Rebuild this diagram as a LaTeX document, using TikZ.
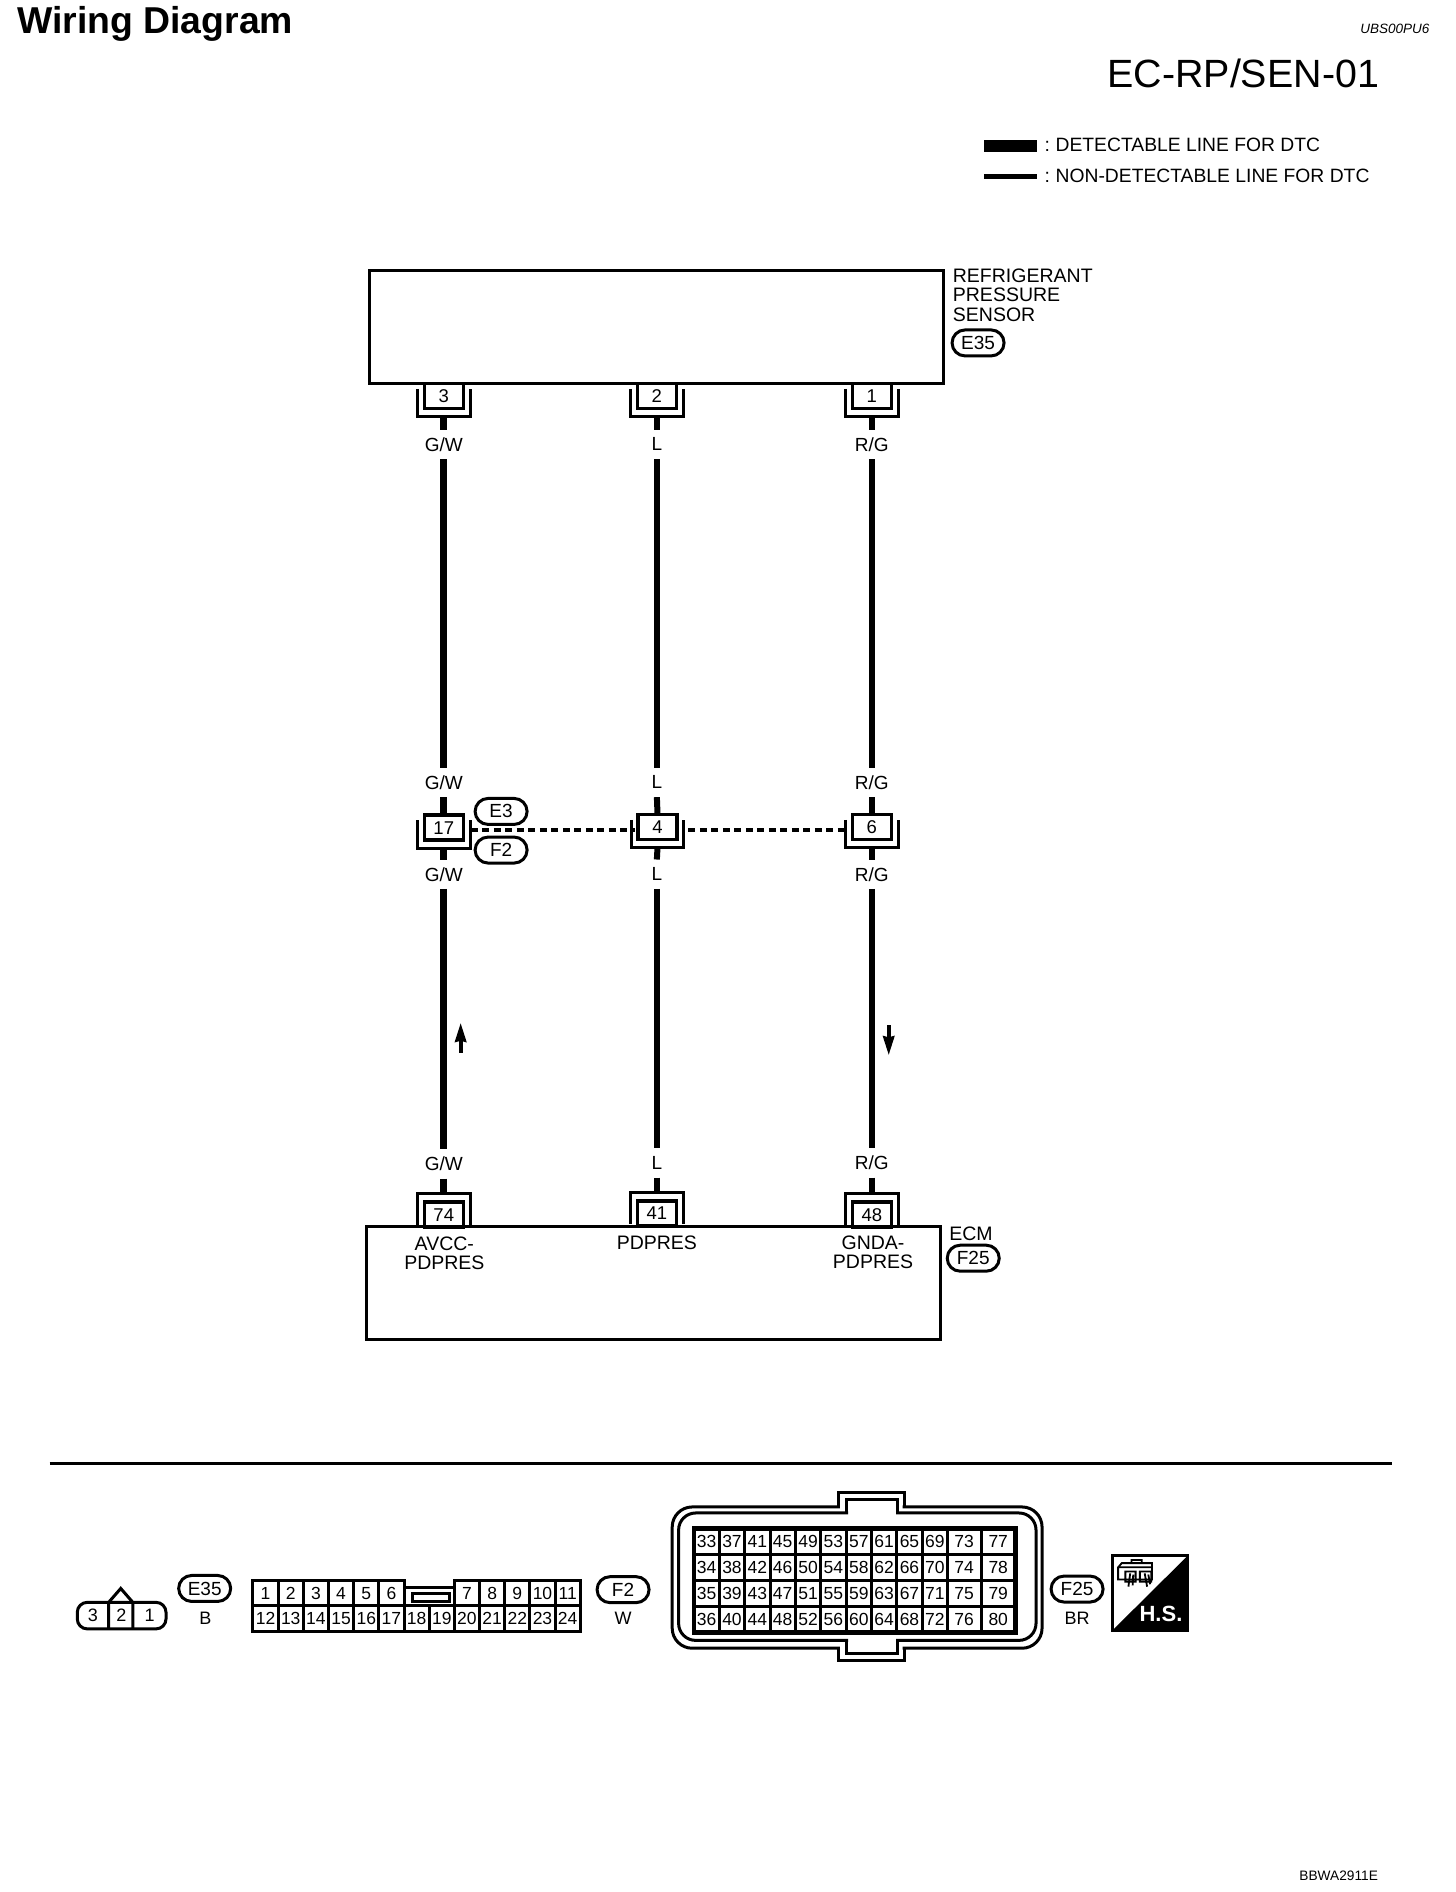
\documentclass[tikz,border=0pt]{standalone}
\usepackage{fontspec}
\setmainfont{Liberation Sans}
\usetikzlibrary{arrows.meta}
\newcommand\fs[1]{\fontsize{#1}{#1}\selectfont}
\newcommand\brDown[1]{\draw[bracket] ([xshift=-5pt,yshift=-7pt]#1.north west) |- ([yshift=-6.5pt]#1.south) -| ([xshift=5pt,yshift=-7pt]#1.north east);}
\newcommand\brUp[1]{\draw[bracket] ([xshift=-5pt,yshift=4pt]#1.south west) |- ([yshift=6.5pt]#1.north) -| ([xshift=5pt,yshift=4pt]#1.south east);}
\tikzset{
  box/.style={draw,line width=3pt,inner sep=0pt},
  pin/.style={draw,fill=white,line width=3.5pt,minimum width=39pt,minimum height=25pt,inner sep=0pt,font=\fs{18.5}},
  bracket/.style={line width=3pt},
  wirethick/.style={line width=7pt},
  wirethin/.style={line width=6pt},
  lab/.style={minimum height=29pt,inner sep=0pt,font=\fs{19}},
  txt/.style={inner sep=0pt,font=\fs{19.5}},
  tag/.style={draw,fill=white,line width=3pt,rounded corners=13pt,minimum width=52pt,minimum height=26pt,inner sep=0pt,font=\fs{19}},
  cell/.style={draw,line width=3pt,inner sep=0pt,minimum height=25.96pt,font=\fs{17.5}},
  scell/.style={draw,line width=3pt,inner sep=0pt,minimum width=25.18pt,minimum height=25.36pt,font=\fs{17.5}},
  shell/.style={line width=3pt,line join=miter,line cap=rect},
  dashline/.style={line width=3.5pt,dash pattern=on 7pt off 4.5pt},
  flow/.style={line width=4pt,-{Stealth[length=19pt,width=11pt,inset=1pt]}},
}
\begin{document}
\begin{tikzpicture}[x=1.2075pt,y=-1.2075pt]
\useasboundingbox (0,0) rectangle (1205.8,1566.9);
% headings
\node[anchor=base west,inner sep=0pt,font=\bfseries\fs{37.4}] (title) at (14,28) {Wiring Diagram};
\node[anchor=base east,inner sep=0pt,font=\itshape\fs{13.5}] (code) at (1184,28) {UBS00PU6};
\node[anchor=base west,inner sep=0pt,font=\fs{39.4}] (sec) at (917,72.5) {EC-RP/SEN-01};
\node[anchor=base west,inner sep=0pt,font=\fs{13.7}] (fig) at (1076,1557.5) {BBWA2911E};
% legend
\coordinate (la) at (815,120.5); \coordinate (lb) at (859,120.5);
\coordinate (lc) at (815,146.5); \coordinate (ld) at (859,146.5);
\draw[line width=12pt] (la) -- (lb);
\draw[line width=5pt] (lc) -- (ld);
\node[anchor=base west,inner sep=0pt,font=\fs{19.3}] (lt1) at (865,125.5) {:\hspace{-0.08em} DETECTABLE LINE FOR DTC};
\node[anchor=base west,inner sep=0pt,font=\fs{19.3}] (lt2) at (865,151) {:\hspace{-0.08em} NON-DETECTABLE LINE FOR DTC};
% sensor
\node[box,minimum width=573.6pt,minimum height=113.5pt] (sensor) at (543.5,271) {};
\node[txt,anchor=north west,align=left] (sname) at (789,222.5) {REFRIGERANT\\[-0.2pt]PRESSURE\\[-0.2pt]SENSOR};
\node[tag] (tE35) at (810,284) {E35};
\node[pin] (p3) at (367.5,328) {3};
\node[pin] (p2) at (544,328) {2};
\node[pin] (p1) at (722,328) {1};
% ecm
\node[box,minimum width=574.2pt,minimum height=112.3pt] (ecm) at (541.2,1062.5) {};
\node[pin] (p74) at (367.5,1006) {74};
\node[pin] (p41) at (544,1005) {41};
\node[pin] (p48) at (722,1006) {48};
\node[txt,align=center] (s74) at (368,1038) {AVCC-\\PDPRES};
\node[txt] (s41) at (544,1029) {PDPRES};
\node[txt,align=center] (s48) at (723,1037) {GNDA-\\PDPRES};
\node[txt,anchor=base west] (ecmname) at (786,1027) {ECM};
\node[tag] (tF25) at (806,1042) {F25};
% middle connector
\node[pin] (p17) at (367.5,685.5) {17};
\node[pin] (p4) at (544.5,685) {4};
\node[pin] (p6) at (722,685) {6};
\node[tag] (tE3) at (415,672) {E3};
\node[tag] (tF2) at (415,704) {F2};
\coordinate (dA) at (390,687.5); \coordinate (dB) at (526,687.5);
\coordinate (dC) at (570,687.5); \coordinate (dD) at (699,687.5);
\draw[dashline] (dA) -- (dB);
\draw[dashline] (dC) -- (dD);
% brackets
\foreach \p in {p3,p2,p1,p17,p4,p6}{\brDown{\p}}
\foreach \p in {p74,p41,p48}{\brUp{\p}}
\foreach \p in {p3,p2,p1,p17,p4,p6}{\coordinate (b\p) at ([yshift=-6.5pt]\p.south);}
\foreach \p in {p74,p41,p48}{\coordinate (b\p) at ([yshift=6.5pt]\p.north);}
% wire labels
\node[lab] (a1) at (367.5,368) {G/W};
\node[lab] (a2) at (367.5,648) {G/W};
\node[lab] (a3) at (367.5,724) {G/W};
\node[lab] (a4) at (367.5,964) {G/W};
\node[lab] (c1) at (544,368) {L};
\node[lab] (c2) at (544,648) {L};
\node[lab] (c3) at (544,724) {L};
\node[lab] (c4) at (544,963) {L};
\node[lab] (d1) at (722,368) {R/G};
\node[lab] (d2) at (722,648) {R/G};
\node[lab] (d3) at (722,724) {R/G};
\node[lab] (d4) at (722,963) {R/G};
% wires
\draw[wirethick] (bp3) -- (a1.north);
\draw[wirethick] (a1.south) -- (a2.north);
\draw[wirethick] (a2.south) -- (p17.north);
\draw[wirethick] (bp17) -- (a3.north);
\draw[wirethick] (a3.south) -- (a4.north);
\draw[wirethick] (a4.south) -- (bp74);
\draw[wirethin] (bp2) -- (c1.north);
\draw[wirethin] (c1.south) -- (c2.north);
\draw[wirethin] (c2.south) -- (p4.north);
\draw[wirethin] (bp4) -- (c3.north);
\draw[wirethin] (c3.south) -- (c4.north);
\draw[wirethin] (c4.south) -- (bp41);
\draw[wirethin] (bp1) -- (d1.north);
\draw[wirethin] (d1.south) -- (d2.north);
\draw[wirethin] (d2.south) -- (p6.north);
\draw[wirethin] (bp6) -- (d3.north);
\draw[wirethin] (d3.south) -- (d4.north);
\draw[wirethin] (d4.south) -- (bp48);
% current arrows
\coordinate (ua) at (381.5,872); \coordinate (ub) at (381.5,847);
\coordinate (da) at (736,849); \coordinate (db) at (736,874);
\draw[flow] (ua) -- (ub);
\draw[flow] (da) -- (db);
% separator
\coordinate (sa) at (41,1212); \coordinate (sb) at (1153,1212);
\draw[line width=3pt] (sa) -- (sb);
% E35 face
\draw[line width=3pt,rounded corners=10pt] (64,1327) rectangle (137.5,1349);
\draw[line width=3pt,line join=miter] (90,1349) -- (90,1327) -- (100,1315.5) -- (110,1327) -- (110,1349);
\draw[line width=3pt] (90,1327) -- (110,1327);
\node[inner sep=0pt,font=\fs{18}] (n3) at (77,1338) {3};
\node[inner sep=0pt,font=\fs{18}] (n2) at (100.5,1338) {2};
\node[inner sep=0pt,font=\fs{18}] (n1) at (124,1338) {1};
\node[tag] (fE35) at (169.5,1315.5) {E35};
\node[inner sep=0pt,font=\fs{18}] (cE35) at (170,1340) {B};
% F2 face
\foreach \n/\i in {1/0,2/1,3/2,4/3,5/4,6/5,7/8,8/9,9/10,10/11,11/12}{
  \node[scell] (s\n) at ({209.5+(\i+0.5)*20.85},1319.5) {\n};}
\foreach \n/\i in {12/0,13/1,14/2,15/3,16/4,17/5,18/6,19/7,20/8,21/9,22/10,23/11,24/12}{
  \node[scell] (s\n) at ({209.5+(\i+0.5)*20.85},1340.5) {\n};}
\draw[shell] (334.6,1330) -- (334.6,1315) -- (376.3,1315) -- (376.3,1330);
\draw[line width=3pt] (342,1320) rectangle (372,1326);
\node[tag] (fF2) at (516,1316.5) {F2};
\node[inner sep=0pt,font=\fs{18}] (cF2) at (516,1340.5) {W};
% F25 face: outer contour
\draw[shell,rounded corners=20pt] (694.3,1248) -- (556.7,1248) -- (556.7,1365) -- (694.3,1365);
\draw[shell,rounded corners=20pt] (748.7,1248) -- (863,1248) -- (863,1365) -- (748.7,1365);
\draw[shell] (694.3,1248) -- (694.3,1236) -- (748.7,1236) -- (748.7,1248);
\draw[shell] (694.3,1365) -- (694.3,1375.5) -- (748.7,1375.5) -- (748.7,1365);
% F25 face: inner contour
\draw[shell,rounded corners=17pt] (701.2,1253) -- (562,1253) -- (562,1358.5) -- (701.2,1358.5);
\draw[shell,rounded corners=17pt] (743.4,1253) -- (858,1253) -- (858,1358.5) -- (743.4,1358.5);
\draw[shell] (701.2,1253) -- (701.2,1242) -- (743.4,1242) -- (743.4,1253);
\draw[shell] (701.2,1358.5) -- (701.2,1369) -- (743.4,1369) -- (743.4,1358.5);
\foreach \n/\cx/\cw in {33/585.2/25.36,37/606.2/25.36,41/627.2/25.36,45/648.2/25.36,49/669.2/25.36,53/690.2/25.36,57/711.2/25.36,61/732.2/25.36,65/753.2/25.36,69/774.2/25.36,73/798.4/33.9,77/826.7/34.4}{
  \foreach \r in {0,1,2,3}{
    \pgfmathtruncatemacro\num{\n+\r}
    \pgfmathsetmacro\cy{1276.75+21.5*\r}
    \node[cell,minimum width=\cw pt] (g\num) at (\cx,\cy) {\num};
  }
}
\draw[line width=4.5pt] (574.7,1266) rectangle (840.9,1352);
\node[tag] (fF25) at (892,1316) {F25};
\node[inner sep=0pt,font=\fs{18}] (cF25) at (892,1340.5) {BR};
% harness symbol
\fill (983.5,1288.5) -- (983.5,1350) -- (921.5,1350) -- cycle;
\draw[line width=3pt] (921.5,1288.5) rectangle (983.5,1350);
\node[inner sep=0pt,text=white,font=\bfseries\fs{22}] (hs) at (961.5,1337) {H.S.};
\draw[line width=1.8pt] (926,1298) -- (929,1294.5) -- (954,1294.5) -- (954,1308) -- (926,1308) -- cycle
  (937,1294.5) -- (937,1292) -- (945.5,1292) -- (945.5,1294.5)
  (926,1298) -- (954,1298)
  (932,1301.5) -- (940.5,1301.5) -- (940.5,1310) -- (932,1310) -- cycle
  (944,1301.5) -- (953.5,1301.5) -- (953.5,1310) -- (944,1310) -- cycle
  (936,1303) -- (934.5,1314)  (938.5,1304) -- (938,1313)
  (948,1303) -- (950,1314)  (951,1304) -- (952.5,1312);
\end{tikzpicture}
\end{document}
